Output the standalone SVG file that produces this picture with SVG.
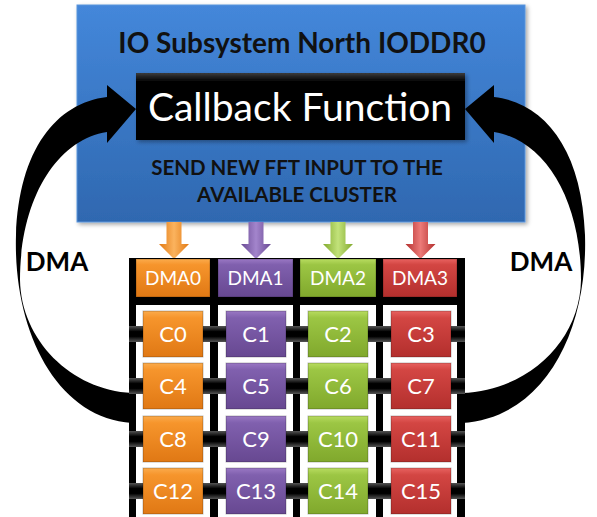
<svg xmlns="http://www.w3.org/2000/svg" width="597" height="517" viewBox="0 0 597 517">
<defs>
  <linearGradient id="gBlue" x1="0" y1="0" x2="0" y2="1">
    <stop offset="0" stop-color="#4487da"/>
    <stop offset="1" stop-color="#2f68b0"/>
  </linearGradient>
  <linearGradient id="gBlack" x1="0" y1="0" x2="0" y2="1">
    <stop offset="0" stop-color="#3a3a3a"/>
    <stop offset="0.12" stop-color="#050505"/>
    <stop offset="1" stop-color="#000"/>
  </linearGradient>
  <linearGradient id="gO" x1="0" y1="0" x2="0" y2="1">
    <stop offset="0" stop-color="#fbab4c"/>
    <stop offset="0.15" stop-color="#f6952c"/>
    <stop offset="1" stop-color="#e07814"/>
  </linearGradient>
  <linearGradient id="gP" x1="0" y1="0" x2="0" y2="1">
    <stop offset="0" stop-color="#9a78c4"/>
    <stop offset="0.15" stop-color="#8060ae"/>
    <stop offset="1" stop-color="#674891"/>
  </linearGradient>
  <linearGradient id="gG" x1="0" y1="0" x2="0" y2="1">
    <stop offset="0" stop-color="#b8dc60"/>
    <stop offset="0.15" stop-color="#9cc644"/>
    <stop offset="1" stop-color="#80a82c"/>
  </linearGradient>
  <linearGradient id="gR" x1="0" y1="0" x2="0" y2="1">
    <stop offset="0" stop-color="#e86260"/>
    <stop offset="0.15" stop-color="#d34643"/>
    <stop offset="1" stop-color="#b32f2d"/>
  </linearGradient>
  <linearGradient id="aO" x1="0" y1="0" x2="1" y2="0">
    <stop offset="0" stop-color="#e27a14"/>
    <stop offset="0.5" stop-color="#fbb35e"/>
    <stop offset="1" stop-color="#e27a14"/>
  </linearGradient>
  <linearGradient id="aP" x1="0" y1="0" x2="1" y2="0">
    <stop offset="0" stop-color="#6a4a94"/>
    <stop offset="0.5" stop-color="#a385cc"/>
    <stop offset="1" stop-color="#6a4a94"/>
  </linearGradient>
  <linearGradient id="aG" x1="0" y1="0" x2="1" y2="0">
    <stop offset="0" stop-color="#82aa2e"/>
    <stop offset="0.5" stop-color="#c2e27a"/>
    <stop offset="1" stop-color="#82aa2e"/>
  </linearGradient>
  <linearGradient id="aR" x1="0" y1="0" x2="1" y2="0">
    <stop offset="0" stop-color="#b42f2d"/>
    <stop offset="0.5" stop-color="#ec7a78"/>
    <stop offset="1" stop-color="#b42f2d"/>
  </linearGradient>
  <linearGradient id="gBar" x1="0" y1="0" x2="0" y2="1">
    <stop offset="0" stop-color="#555"/>
    <stop offset="0.35" stop-color="#000"/>
    <stop offset="0.65" stop-color="#000"/>
    <stop offset="1" stop-color="#555"/>
  </linearGradient>
  <filter id="sh" x="-10%" y="-10%" width="130%" height="130%">
    <feDropShadow dx="2" dy="2" stdDeviation="2" flood-color="#000" flood-opacity="0.35"/>
  </filter>
</defs>
<style>
  .t { font-family: Lato, "Liberation Sans", sans-serif; }
  .title { font-weight: bold; font-size: 28px; fill: #111; text-anchor: middle; }
  .cb { font-size: 39px; fill: #fff; text-anchor: middle; }
  .sub { font-weight: bold; font-size: 20.5px; fill: #111; text-anchor: middle; }
  .dma { font-weight: bold; font-size: 26px; fill: #000; text-anchor: middle; }
  .lbl { font-size: 19px; fill: #fff; text-anchor: middle; }
  .cl { font-size: 22px; fill: #fff; text-anchor: middle; }
  .box { stroke: rgba(0,0,0,0.25); stroke-width: 1; }
</style>

<g id="io-subsystem">
  <rect x="77" y="5" width="448" height="217" fill="url(#gBlue)" stroke="#5b95dc" stroke-width="1" filter="url(#sh)"/>
  <text class="t title" x="302" y="53">IO Subsystem North IODDR0</text>
  <text class="t sub" x="297" y="175">SEND NEW FFT INPUT TO THE</text>
  <text class="t sub" x="297" y="202">AVAILABLE CLUSTER</text>
</g>

<g id="callback">
  <rect x="136" y="73" width="329" height="67" fill="url(#gBlack)" filter="url(#sh)"/>
  <text class="t cb" x="300" y="121">Callback Function</text>
</g>

<g id="connectors">
  <path id="dma-left" d="M136,109 L107,85 L107,97 C56,103 19,150 16,235 C13,330 56,418 132,423 L132,393 C71,390 21,340 20,280 C20,200 56,140 107,132 L107,143 Z" fill="#000"/>
  <path id="dma-right" d="M465,109 L494,85 L494,97 C545,103 582,150 585,235 C588,330 545,418 462,423 L462,393 C530,390 580,340 581,280 C581,200 545,140 494,132 L494,143 Z" fill="#000"/>
  <path d="M166.5,222 h15 v22 h7.5 l-15,15 l-15,-15 h7.5 z" fill="url(#aO)"/>
  <path d="M248.5,222 h15 v22 h7.5 l-15,15 l-15,-15 h7.5 z" fill="url(#aP)"/>
  <path d="M330.5,222 h15 v22 h7.5 l-15,15 l-15,-15 h7.5 z" fill="url(#aG)"/>
  <path d="M413,222 h15 v22 h7.5 l-15,15 l-15,-15 h7.5 z" fill="url(#aR)"/>
</g>

<g id="dma-labels">
  <text class="t dma" x="57" y="271">DMA</text>
  <text class="t dma" x="541" y="271">DMA</text>
</g>

<g id="grid">
  <rect x="129" y="258" width="336" height="47" fill="#000"/>
  <rect x="129" y="258" width="7" height="259" fill="#000"/>
  <rect x="210" y="258" width="8" height="259" fill="#000"/>
  <rect x="293" y="258" width="7" height="259" fill="#000"/>
  <rect x="376" y="258" width="7" height="259" fill="#000"/>
  <rect x="457" y="258" width="8" height="259" fill="#000"/>
  <rect x="129" y="326" width="336" height="16" fill="url(#gBar)"/>
  <rect x="129" y="378" width="336" height="16" fill="url(#gBar)"/>
  <rect x="129" y="431" width="336" height="16" fill="url(#gBar)"/>
  <rect x="129" y="483" width="336" height="16" fill="url(#gBar)"/>
</g>

<g id="dma0"><rect class="box" x="136" y="259" width="74" height="38" fill="url(#gO)"/><text class="t lbl" x="173" y="285">DMA0</text></g>
<g id="dma1"><rect class="box" x="218" y="259" width="75" height="38" fill="url(#gP)"/><text class="t lbl" x="255.5" y="285">DMA1</text></g>
<g id="dma2"><rect class="box" x="300" y="259" width="76" height="38" fill="url(#gG)"/><text class="t lbl" x="338" y="285">DMA2</text></g>
<g id="dma3"><rect class="box" x="383" y="259" width="74" height="38" fill="url(#gR)"/><text class="t lbl" x="420" y="285">DMA3</text></g>

<g id="c0"><rect class="box" x="143" y="311" width="60" height="46" fill="url(#gO)"/><text class="t cl" x="173" y="342">C0</text></g>
<g id="c1"><rect class="box" x="226" y="311" width="60" height="46" fill="url(#gP)"/><text class="t cl" x="256" y="342">C1</text></g>
<g id="c2"><rect class="box" x="308" y="311" width="60" height="46" fill="url(#gG)"/><text class="t cl" x="338" y="342">C2</text></g>
<g id="c3"><rect class="box" x="391" y="311" width="60" height="46" fill="url(#gR)"/><text class="t cl" x="421" y="342">C3</text></g>

<g id="c4"><rect class="box" x="143" y="363" width="60" height="46" fill="url(#gO)"/><text class="t cl" x="173" y="394">C4</text></g>
<g id="c5"><rect class="box" x="226" y="363" width="60" height="46" fill="url(#gP)"/><text class="t cl" x="256" y="394">C5</text></g>
<g id="c6"><rect class="box" x="308" y="363" width="60" height="46" fill="url(#gG)"/><text class="t cl" x="338" y="394">C6</text></g>
<g id="c7"><rect class="box" x="391" y="363" width="60" height="46" fill="url(#gR)"/><text class="t cl" x="421" y="394">C7</text></g>

<g id="c8"><rect class="box" x="143" y="416" width="60" height="46" fill="url(#gO)"/><text class="t cl" x="173" y="447">C8</text></g>
<g id="c9"><rect class="box" x="226" y="416" width="60" height="46" fill="url(#gP)"/><text class="t cl" x="256" y="447">C9</text></g>
<g id="c10"><rect class="box" x="308" y="416" width="60" height="46" fill="url(#gG)"/><text class="t cl" x="338" y="447">C10</text></g>
<g id="c11"><rect class="box" x="391" y="416" width="60" height="46" fill="url(#gR)"/><text class="t cl" x="421" y="447">C11</text></g>

<g id="c12"><rect class="box" x="143" y="468" width="60" height="46" fill="url(#gO)"/><text class="t cl" x="173" y="499">C12</text></g>
<g id="c13"><rect class="box" x="226" y="468" width="60" height="46" fill="url(#gP)"/><text class="t cl" x="256" y="499">C13</text></g>
<g id="c14"><rect class="box" x="308" y="468" width="60" height="46" fill="url(#gG)"/><text class="t cl" x="338" y="499">C14</text></g>
<g id="c15"><rect class="box" x="391" y="468" width="60" height="46" fill="url(#gR)"/><text class="t cl" x="421" y="499">C15</text></g>
</svg>
